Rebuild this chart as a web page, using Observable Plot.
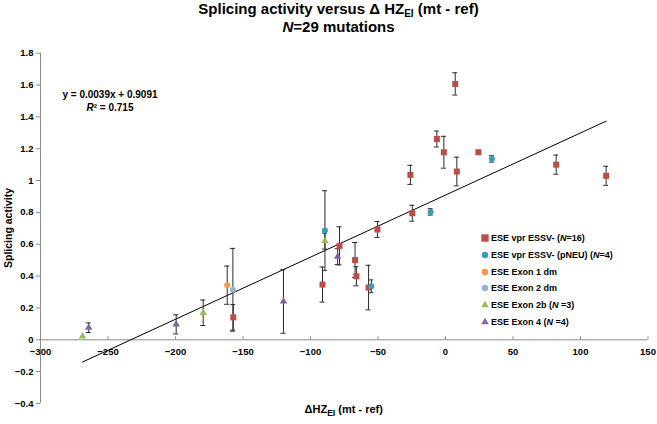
<!DOCTYPE html>
<html>
<head>
<meta charset="utf-8">
<script src="https://cdn.jsdelivr.net/npm/d3@7"></script>
<script src="https://cdn.jsdelivr.net/npm/@observablehq/plot@0.6"></script>
<style>
  html, body { margin: 0; padding: 0; background: #fff; }
  #wrap { position: relative; width: 657px; height: 424px; font-family: "Liberation Sans", Arial, sans-serif; color: #000; }
  #title { position: absolute; left: 20px; top: 0; width: 637px; text-align: center; font-weight: bold; font-size: 15px; line-height: 18px; }
  #title .sub { font-size: 10px; position: relative; top: 3px; line-height: 0; }
  #chart { position: absolute; left: 0; top: 40px; }
  #eq { position: absolute; left: 50px; top: 87.5px; width: 120px; text-align: center; font-weight: bold; font-size: 10px; line-height: 13px; }
  #legend { position: absolute; left: 480px; top: 230px; font-weight: bold; font-size: 9px; }
  #legend .row { height: 16.7px; display: flex; align-items: center; white-space: nowrap; }
  #legend svg { margin-right: 1px; }
</style>
</head>
<body>
<div id="wrap">
  <div id="title">Splicing activity versus Δ HZ<span class="sub">EI</span> (mt - ref)<br><i>N</i>=29 mutations</div>
  <div id="chart"></div>
  <div id="eq"></div>
  <div id="legend"></div>
</div>
<script>
// ---- Data ----
const seriesNames = [
  "ESE vpr ESSV- (N=16)",
  "ESE vpr ESSV- (pNEU) (N=4)",
  "ESE Exon 1 dm",
  "ESE Exon 2 dm",
  "ESE Exon 2b (N =3)",
  "ESE Exon 4 (N =4)"
];
const seriesColors = ["#BE4B48", "#3D9CB5", "#F79646", "#95B3D7", "#9BBB59", "#8064A2"];
const seriesSymbols = ["square", "circle", "circle", "circle", "triangle", "triangle"];

const vprX   = [7.2, -6.4, -1.2, 24.4, 8.4, -26, -24.6, -50.4, -78.5, -67, -66, -91.1, -57, -157.2, 82, 119];
const vprY   = [1.607, 1.261, 1.178, 1.178, 1.057, 1.036, 0.795, 0.693, 0.59, 0.501, 0.399, 0.347, 0.328, 0.141, 1.10, 1.03];
const vprErr = [0.07, 0.05, 0.10, 0.01, 0.09, 0.06, 0.05, 0.05, 0.12, 0.11, 0.06, 0.11, 0.14, 0.08, 0.06, 0.06];

const pneuX   = [34.4, -11, -89.3, -54.9];
const pneuY   = [1.136, 0.803, 0.686, 0.336];
const pneuErr = [0.02, 0.02, 0.25, 0.04];

const exon1X = [-161.7], exon1Y = [0.343], exon1Err = [0.12];
const exon2X = [-157.5], exon2Y = [0.314], exon2Err = [0.26];

const exon2bX   = [-268.9, -179.5, -89.3];
const exon2bY   = [0.022, 0.17, 0.62];
const exon2bErr = [0, 0.08, 0.05];

const exon4X   = [-264.3, -199.5, -120, -79.9];
const exon4Y   = [0.076, 0.097, 0.241, 0.522];
const exon4Err = [0.03, 0.06, 0.2, 0.05];

const fitSlope = 0.0039, fitIntercept = 0.9091, fitR2 = 0.715;

const xTicks = [-300, -250, -200, -150, -100, -50, 0, 50, 100, 150];
const yTicks = [-0.4, -0.2, 0, 0.2, 0.4, 0.6, 0.8, 1, 1.2, 1.4, 1.6, 1.8];

// ---- Build table ----
const seriesData = [
  [vprX, vprY, vprErr],
  [pneuX, pneuY, pneuErr],
  [exon1X, exon1Y, exon1Err],
  [exon2X, exon2Y, exon2Err],
  [exon2bX, exon2bY, exon2bErr],
  [exon4X, exon4Y, exon4Err]
];
const points = [];
seriesData.forEach(([xs, ys, es], s) => {
  xs.forEach((x, i) => points.push({s, x, y: ys[i], e: es[i]}));
});
const xExt = d3.extent(points, d => d.x);
const fitLine = xExt.map(x => ({x, y: fitSlope * x + fitIntercept}));

const fmt = d => d === 0 ? "0" : String(d).replace("-", "\u2212");
const axisGray = "#8c8c8c";
const barColor = "#2a2a2a";
const symSize = [4.6, 3.6, 3.6, 3.6, 3.1, 3.1];

const plot = Plot.plot({
  width: 657,
  height: 384,
  marginTop: 12.7,
  marginBottom: 21,
  marginLeft: 40,
  marginRight: 9.5,
  x: {domain: [-300, 150], axis: null},
  y: {domain: [-0.4, 1.8]},
  style: {fontFamily: "'Liberation Sans', Arial, sans-serif", color: "#000", background: "#fff"},
  marks: [
    Plot.ruleY([0], {stroke: axisGray}),
    Plot.ruleX([-300], {stroke: axisGray}),
    Plot.axisY(yTicks, {tickSize: 4, tickPadding: 3, tickFormat: fmt, stroke: axisGray, fontWeight: "bold", fontSize: 9.5, fill: "#000", label: null}),
    Plot.ruleX(xTicks.slice(1), {x: d => d, y1: 0, y2: 0, insetTop: -3, stroke: axisGray}),
    Plot.text(xTicks, {x: d => d, y: 0, text: fmt, dy: 8, lineAnchor: "top", fontWeight: "bold", fontSize: 9.5, fill: "#000"}),
    Plot.line(fitLine, {x: "x", y: "y", stroke: "#000", strokeWidth: 1}),
    Plot.ruleX(points.filter(d => d.e > 0), {x: "x", y1: d => d.y - d.e, y2: d => d.y + d.e, stroke: barColor, strokeWidth: 1}),
    Plot.ruleY(points.filter(d => d.e > 0), {y: d => d.y + d.e, x1: "x", x2: "x", insetLeft: -2.5, insetRight: -2.5, stroke: barColor}),
    Plot.ruleY(points.filter(d => d.e > 0), {y: d => d.y - d.e, x1: "x", x2: "x", insetLeft: -2.5, insetRight: -2.5, stroke: barColor}),
    Plot.dot(points, {x: "x", y: "y", r: d => symSize[d.s], symbol: d => seriesSymbols[d.s], fill: d => seriesColors[d.s], stroke: "none"})
  ]
});
document.getElementById("chart").appendChild(plot);

// axis titles as SVG text
const svg = d3.select(plot);
const xl = svg.append("text")
  .attr("x", (40 + 647.5) / 2).attr("y", 373)
  .attr("text-anchor", "middle")
  .attr("font-weight", "bold").attr("font-size", 11).attr("fill", "#000");
xl.append("tspan").text("\u0394HZ");
xl.append("tspan").attr("font-size", 8.5).attr("dy", 3).text("EI");
xl.append("tspan").attr("dy", -3).text(" (mt - ref)");

svg.append("text")
  .attr("transform", `translate(12,${188}) rotate(-90)`)
  .attr("text-anchor", "middle")
  .attr("font-weight", "bold").attr("font-size", 10.5).attr("fill", "#000")
  .text("Splicing activity");

// equation
document.getElementById("eq").innerHTML =
  `y = ${fitSlope}x + ${fitIntercept}<br><i>R</i>² = ${fitR2}`;

// legend
const legend = d3.select("#legend");
seriesNames.forEach((name, s) => {
  const row = legend.append("div").attr("class", "row");
  const ms = row.append("svg").attr("width", 10).attr("height", 10);
  const sym = d3.symbol().type(seriesSymbols[s] === "square" ? d3.symbolSquare : seriesSymbols[s] === "circle" ? d3.symbolCircle : d3.symbolTriangle)
    .size(Math.PI * Math.pow(symSize[s] * 0.9, 2));
  ms.append("path").attr("transform", "translate(5,5)").attr("d", sym()).attr("fill", seriesColors[s]);
  row.append("span").html(name.replace(/\bN(\s?=)/, "<i>N</i>$1"));
});
</script>
</body>
</html>
